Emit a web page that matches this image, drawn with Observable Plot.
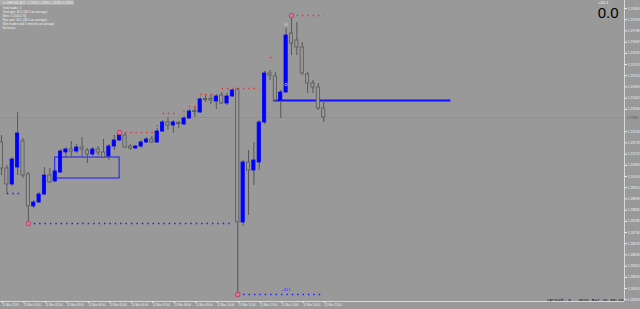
<!DOCTYPE html>
<html><head><meta charset="utf-8">
<script src="https://cdn.jsdelivr.net/npm/d3@7"></script>
<script src="https://cdn.jsdelivr.net/npm/@observablehq/plot@0.6"></script>
<style>
html,body{margin:0;padding:0;background:#999999;}
#chart{position:relative;width:640px;height:309px;overflow:hidden;}
</style></head><body><div id="chart"></div>
<script>
// ---- data (GBPUSD M15, 11 Mar 2020) ----
const open  = [1.29180,1.29050,1.28970,1.29055,1.29185,1.29020,1.28860,1.28880,1.28920,1.29015,1.28985,1.29030,1.29130,1.29145,1.29135,1.29155,1.29140,1.29120,1.29145,1.29130,1.29110,1.29160,1.29190,1.29215,1.29160,1.29150,1.29160,1.29180,1.29195,1.29180,1.29235,1.29280,1.29265,1.29278,1.29270,1.29300,1.29338,1.29330,1.29398,1.29398,1.29385,1.29415,1.29375,1.29410,1.29445,1.28780,1.29080,1.29040,1.29080,1.29280,1.29525,1.29510,1.29390,1.29430,1.29725,1.29690,1.29655,1.29520,1.29475,1.29455,1.29350];
const high  = [1.29215,1.29065,1.29105,1.29330,1.29200,1.29030,1.28890,1.28930,1.29055,1.29050,1.29040,1.29145,1.29155,1.29185,1.29170,1.29205,1.29150,1.29155,1.29160,1.29195,1.29170,1.29215,1.29230,1.29225,1.29170,1.29165,1.29190,1.29205,1.29210,1.29250,1.29290,1.29305,1.29290,1.29285,1.29310,1.29345,1.29355,1.29405,1.29415,1.29415,1.29420,1.29430,1.29425,1.29445,1.29450,1.29090,1.29140,1.29180,1.29290,1.29535,1.29540,1.29530,1.29440,1.29750,1.29815,1.29780,1.29680,1.29530,1.29490,1.29475,1.29390];
const low   = [1.29015,1.28925,1.28960,1.29015,1.29000,1.28775,1.28850,1.28875,1.28915,1.28975,1.28980,1.29025,1.29100,1.29105,1.29125,1.29110,1.29075,1.29110,1.29115,1.29100,1.29090,1.29140,1.29185,1.29150,1.29140,1.29145,1.29150,1.29175,1.29175,1.29175,1.29230,1.29240,1.29225,1.29250,1.29265,1.29295,1.29305,1.29325,1.29380,1.29370,1.29345,1.29370,1.29365,1.29405,1.28420,1.28760,1.28815,1.28965,1.29040,1.29270,1.29490,1.29385,1.29300,1.29425,1.29615,1.29615,1.29515,1.29425,1.29425,1.29340,1.29280];
const close = [1.29050,1.28970,1.29095,1.29225,1.29015,1.28860,1.28880,1.28920,1.29015,1.28980,1.29035,1.29135,1.29145,1.29135,1.29155,1.29145,1.29120,1.29145,1.29130,1.29105,1.29160,1.29190,1.29215,1.29155,1.29150,1.29160,1.29180,1.29195,1.29180,1.29235,1.29280,1.29265,1.29280,1.29272,1.29300,1.29335,1.29332,1.29395,1.29392,1.29390,1.29410,1.29375,1.29410,1.29440,1.28780,1.29080,1.29040,1.29090,1.29280,1.29525,1.29515,1.29390,1.29430,1.29715,1.29675,1.29655,1.29525,1.29475,1.29455,1.29350,1.29305];

const timeLabelIdx = [0,4,8,12,16,20,24,28,32,36,40,44,48,52,56,60];
const timeLabels = ["11 Mar 2020","11 Mar 01:00","11 Mar 02:00","11 Mar 03:00","11 Mar 04:00","11 Mar 05:00","11 Mar 06:00","11 Mar 07:00","11 Mar 08:00","11 Mar 09:00","11 Mar 10:00","11 Mar 11:00","11 Mar 12:00","11 Mar 13:00","11 Mar 14:00","11 Mar 15:00"];
const priceTicks = [1.29850,1.29794,1.29738,1.29682,1.29626,1.29570,1.29514,1.29458,1.29402,1.29346,1.29234,1.29178,1.29122,1.29066,1.29010,1.28954,1.28898,1.28842,1.28786,1.28730,1.28674,1.28618,1.28562,1.28506,1.28450,1.28394];

// zone rectangle (start idx, end idx, top, bottom)
const zoneIdx = [10, 22];
const zonePrice = [1.29105, 1.29000];
// blue horizontal level
const levelIdx = [50.6, 83.6];
const levelPrice = 1.29390;
// dotted lines: [startIdx, endIdx, price]
const blueDotted = [[1,4,1.28925],[5,43,1.28775],[44,60,1.28420]];
const redDotted  = [[22,29,1.29230],[30,33,1.29325],[37,40,1.29420],[41,48,1.29450],[50,51,1.29605],[54,60,1.29815]];
const redMarks = [[21,1.29215],[29,1.29265],[34,1.29335],[35,1.29360],[36,1.29360],[49,1.29535],[53,1.29775]];
// swing circles
const swingIdx = [5, 22, 44, 54];
const swingPrice = [1.28775, 1.29230, 1.28420, 1.29815];
// trade entry / exit
const tradeIdx = [53, 53];
const tradePrice = [1.29470, 1.29771];
const tradePips = "+30.1";

const statsLines = ["▼ GBPUSD,M15  1.29350 1.29390 1.29280 1.29305","Total trades: 1","Total pips: 30.1 (30.1 on average)","Wins: 1 (100.0 %)","Pips won: 30.1 (30.1 on average)","Won trades took 3 minutes on average","No losses"];
const profitText = "0.0";
const infoText = "Spread: 5   Next Bar in 09:19";

// ---- build ----
const candles = open.map((o,i)=>({i,o,h:high[i],l:low[i],c:close[i],up:close[i]>=o}));
const bid = close[close.length-1];
const BG = "#999999", WICK = "#575757", BLUE = "#0000ff";

const chart = Plot.plot({
  width: 640, height: 309,
  marginTop: 0, marginLeft: 0, marginRight: 16, marginBottom: 8,
  style: {background: BG, fontFamily: "Liberation Sans, Arial, sans-serif", overflow: "visible"},
  x: {type: "linear", domain: [-0.1862, 116.015]},
  y: {type: "linear", domain: [1.28385, 1.29890]},
  marks: [
    Plot.ruleY([bid], {stroke: "#8a939c", strokeWidth: 1}),
    Plot.rect([0], {x1: () => zoneIdx[0], x2: () => zoneIdx[1], y1: () => zonePrice[0], y2: () => zonePrice[1], fill: "none", stroke: "#1a1aff", strokeWidth: 1}),
    Plot.link([0], {x1: () => levelIdx[0], x2: () => levelIdx[1], y1: () => levelPrice, y2: () => levelPrice, stroke: "#1010ff", strokeWidth: 2}),
    Plot.link(blueDotted, {x1: d=>d[0], x2: d=>d[1], y1: d=>d[2], y2: d=>d[2], stroke: "#1a1aff", strokeWidth: 1.4, strokeDasharray: "1.4,4", strokeLinecap: "butt"}),
    Plot.link(redDotted, {x1: d=>d[0], x2: d=>d[1], y1: d=>d[2], y2: d=>d[2], stroke: "#f03030", strokeWidth: 1.4, strokeDasharray: "1.4,3.9", strokeLinecap: "butt"}),
    Plot.dot(redMarks, {x: d=>d[0], y: d=>d[1], r: 0.8, fill: "#f03030"}),
    Plot.ruleX(candles, {x: "i", y1: "l", y2: "h", stroke: WICK, strokeWidth: 1}),
    Plot.rect(candles, {x1: d=>d.i-0.3, x2: d=>d.i+0.3, y1: "o", y2: "c", fill: d=>d.up ? BLUE : BG, stroke: d=>d.up ? BLUE : WICK, strokeWidth: 0.8}),
    Plot.dot(swingIdx.map((x,k)=>({x, y: swingPrice[k]})), {x: "x", y: "y", r: 2.3, fill: "#d9779f", stroke: "#b8336a", strokeWidth: 0.8}),
    Plot.dot(tradeIdx.map((x,k)=>({x, y: tradePrice[k]})), {x: "x", y: "y", r: 1.3, fill: "none", stroke: "#c8d4ff", strokeWidth: 0.7}),
    Plot.text([0], {x: () => (blueDotted[2][0]+blueDotted[2][1])/2 + 1, y: () => blueDotted[2][2], text: () => tradePips, dy: -5, fill: "#2a2aff", fontSize: 3.4}),
    // axes
    Plot.ruleX([116.015], {stroke: "#d8d8d8", strokeWidth: 1}),
    Plot.ruleY([1.28385], {stroke: "#d8d8d8", strokeWidth: 1}),
    Plot.axisY(priceTicks, {anchor: "right", tickFormat: d => d.toFixed(5), tickSize: 2, tickPadding: 1, fontSize: 3.4, color: "#eeeeee"}),
    Plot.axisX(timeLabelIdx, {anchor: "bottom", tickFormat: d => timeLabels[timeLabelIdx.indexOf(d)], tickSize: 2, tickPadding: 0.5, fontSize: 2.9, textAnchor: "start", dx: 1, color: "#eeeeee"}),
    // current price label
    Plot.text([bid], {y: d=>d, frameAnchor: "right", text: d => d.toFixed(5), dx: 2, textAnchor: "start", fontSize: 3.4, fill: "#555555"}),
    // overlays
    Plot.text([statsLines.join("\n")], {frameAnchor: "top-left", dx: 2, dy: 1, text: d=>d, fontSize: 3, lineHeight: 1.38, fill: "#f2f2f2", textAnchor: "start"}),
    Plot.text([tradePips], {frameAnchor: "top-right", dx: -16, dy: 1, text: d=>d, fontSize: 4.2, fill: "#f2f2f2"}),
    Plot.text([profitText], {frameAnchor: "top-right", dx: -6, dy: 7, text: d=>d, fontSize: 15, fill: "#000000"}),
    Plot.text([infoText], {frameAnchor: "bottom-right", dx: -1, dy: -1, text: d=>d, fontSize: 4.4, fill: "#111111", fontFamily: "Liberation Mono, monospace"})
  ]
});
const el = document.getElementById("chart");
el.appendChild(chart);
// decorations: title band & current-price box
const svg = d3.select(chart);
svg.insert("rect", ":first-child").attr("x",0).attr("y",0).attr("width",74).attr("height",5).attr("fill","#acacac");
svg.insert("rect", ":first-child").attr("width",640).attr("height",309).attr("fill",BG);
</script></body></html>
